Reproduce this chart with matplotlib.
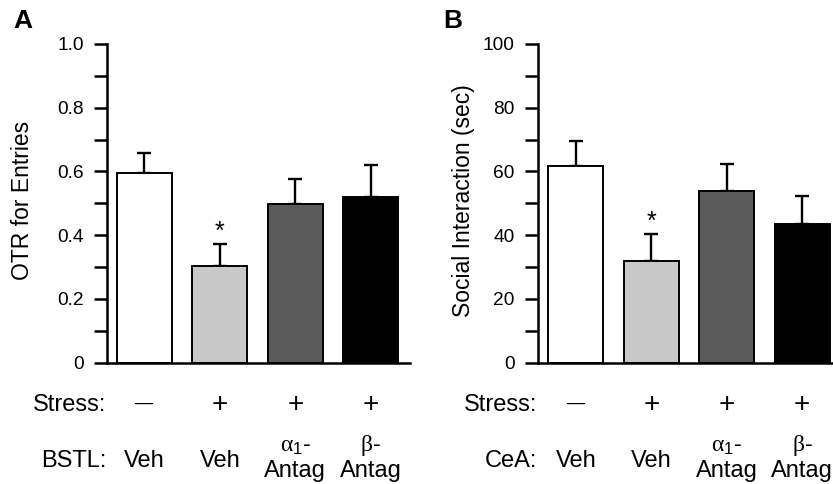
import matplotlib
matplotlib.use("Agg")
import matplotlib.pyplot as plt
import matplotlib.transforms as mtransforms
import numpy as np

plt.rcParams['font.family'] = ['Liberation Sans', 'DejaVu Sans']
plt.rcParams['mathtext.fontset'] = 'custom'
plt.rcParams['mathtext.rm'] = 'Liberation Sans'
plt.rcParams['mathtext.it'] = 'Liberation Serif'

# ---- data ----
stress_labels = ["\u2014", "+", "+", "+"]
drug_top = ["Veh", "Veh", r"$\alpha_1$-", r"$\beta$-"]
drug_bottom = ["", "", "Antag", "Antag"]
bar_colors = ["white", "#c8c8c8", "#5a5a5a", "black"]

otr_means = [0.595, 0.304, 0.497, 0.520]
otr_sem = [0.062, 0.068, 0.080, 0.099]
otr_sig = [False, True, False, False]

si_means = [61.8, 31.9, 53.9, 43.4]
si_sem = [7.9, 8.4, 8.4, 9.0]
si_sig = [False, True, False, False]

W, H = 833, 484
fig = plt.figure(figsize=(W / 100, H / 100), dpi=100)

def make_panel(rect, means, sems, sig, ylim, yticks, yticklabels, minor, ylabel, region,
               letter, letter_xy, ylabel_x, xlim):
    ax = fig.add_axes(rect)
    x = np.arange(len(means))
    ax.bar(x, means, width=0.73, color=bar_colors, edgecolor='black', linewidth=1.4, zorder=2)
    ax.errorbar(x, means, yerr=[np.zeros(len(sems)), sems], fmt='none', ecolor='black',
                elinewidth=1.7, capsize=5, capthick=1.7, zorder=1)
    for xi, m, s, g in zip(x, means, sems, sig):
        if g:
            ax.annotate("*", xy=(xi, m + s), xytext=(0, 4), textcoords='offset points',
                        ha='center', va='baseline', fontsize=18)
    ax.set_xlim(*xlim)
    ax.set_ylim(*ylim)
    ax.set_yticks(yticks)
    ax.set_yticks(minor, minor=True)
    ax.set_yticklabels(yticklabels)
    ax.set_xticks([])
    for s in ['top', 'right']:
        ax.spines[s].set_visible(False)
    ax.spines['left'].set_linewidth(1.8)
    ax.spines['bottom'].set_linewidth(1.8)
    ax.spines['bottom'].set_zorder(3)
    ax.tick_params(axis='y', which='both', direction='out', length=9.5, width=1.8, labelsize=13.8, pad=7)
    fig.text(ylabel_x, rect[1] + rect[3] / 2 + 0.005, ylabel, rotation=90, ha='center', va='center', fontsize=16.5)
    fig.text(letter_xy[0], letter_xy[1], letter, fontsize=19, fontweight='bold', ha='center', va='center')
    tr = mtransforms.blended_transform_factory(ax.transData, fig.transFigure)
    spine_x = rect[0]
    fig.text(spine_x, 1 - 405 / H, "Stress:", ha='right', va='center', fontsize=17)
    fig.text(spine_x, 1 - 461 / H, region + ":", ha='right', va='center', fontsize=17)
    for xi, s, d1, d2 in zip(x, stress_labels, drug_top, drug_bottom):
        if s == "\u2014":
            ax.text(xi, 1 - 403 / H, s, transform=tr, ha='center', va='center', fontsize=13, fontweight='light')
        else:
            ax.text(xi, 1 - 405 / H, s, transform=tr, ha='center', va='center', fontsize=20)
        if d2:
            ax.text(xi, 1 - 446 / H, d1, transform=tr, ha='center', va='center', fontsize=17)
            ax.text(xi, 1 - 477 / H, d2, transform=tr, ha='center', va='baseline', fontsize=17)
        else:
            ax.text(xi, 1 - 461 / H, d1, transform=tr, ha='center', va='center', fontsize=17)
    return ax

bottom = 1 - 362.7 / H
top = 1 - 44 / H
make_panel([106.7 / W, bottom, (410 - 106.7) / W, top - bottom], otr_means, otr_sem, otr_sig,
           (0, 1.0), [0, 0.2, 0.4, 0.6, 0.8, 1.0], ["0", "0.2", "0.4", "0.6", "0.8", "1.0"],
           [0.1, 0.3, 0.5, 0.7, 0.9],
           "OTR for Entries", "BSTL", "A", (22.5 / W, 1 - 21.5 / H), 23 / W, (-0.50, 3.52))
make_panel([537.5 / W, bottom, (833 - 537.5) / W, top - bottom], si_means, si_sem, si_sig,
           (0, 100), [0, 20, 40, 60, 80, 100], ["0", "20", "40", "60", "80", "100"],
           [10, 30, 50, 70, 90],
           "Social Interaction (sec)", "CeA", "B", (453 / W, 1 - 21.5 / H), 463 / W, (-0.51, 3.41))

fig.savefig("out.png", dpi=100)
